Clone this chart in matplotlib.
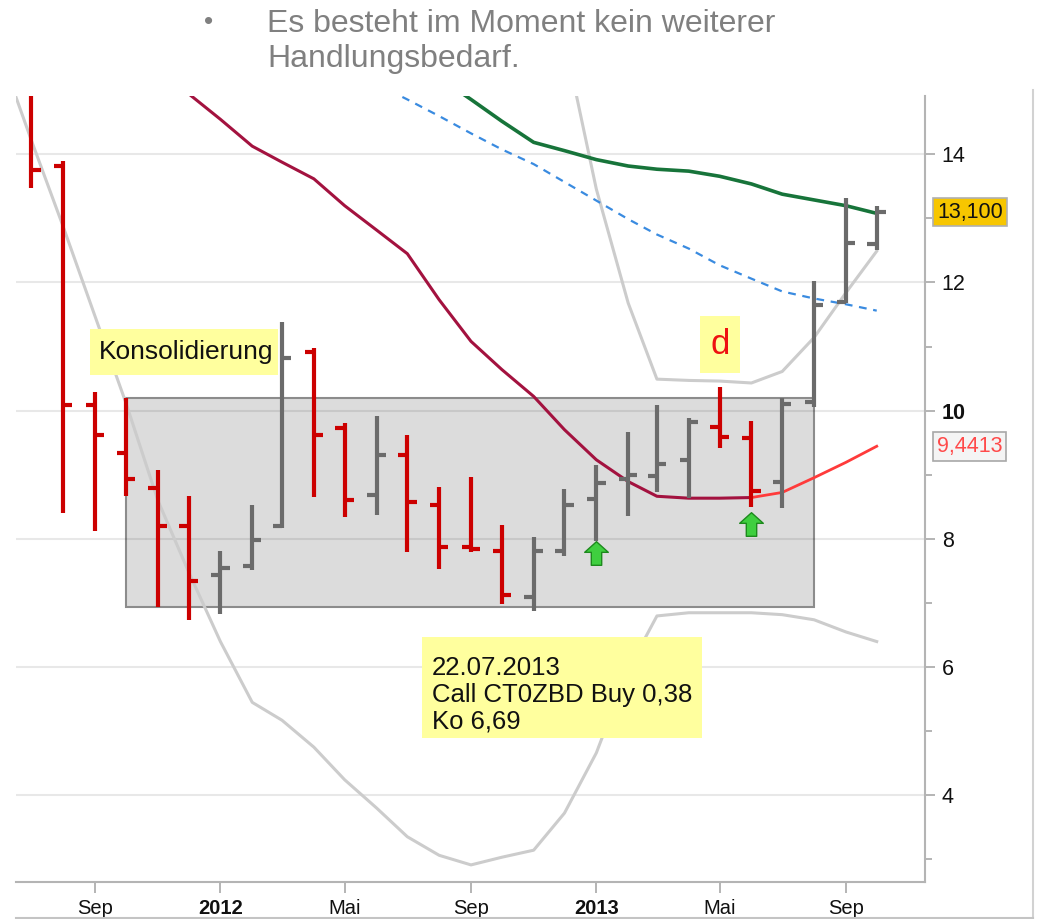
import matplotlib
matplotlib.use('Agg')
import matplotlib.pyplot as plt
import matplotlib.dates as mdates
from matplotlib.patches import Rectangle
from matplotlib.path import Path
from matplotlib.lines import Line2D
import pandas as pd

plt.rcParams['font.family'] = ['Liberation Sans', 'DejaVu Sans']

# monthly OHLC, Jul 2011 .. Oct 2013
months = pd.date_range('2011-07-01', periods=28, freq='MS')
opens = [15.6, 13.82, 10.09, 9.34, 8.79, 8.20, 7.43, 7.57, 8.20, 10.92, 9.73, 8.68, 9.31, 8.53,
         7.86, 7.80, 7.09, 7.81, 8.62, 8.93, 8.97, 9.23, 9.75, 9.57, 8.88, 10.13, 11.70, 12.60]
highs = [16.2, 13.90, 10.29, 10.20, 9.07, 8.66, 7.80, 8.52, 11.39, 10.98, 9.80, 9.92, 9.62, 8.81,
         8.96, 8.21, 8.02, 8.77, 9.15, 9.66, 10.09, 9.89, 10.37, 9.83, 10.20, 12.02, 13.32, 13.20]
lows = [13.48, 8.40, 8.12, 8.66, 6.93, 6.73, 6.82, 7.51, 8.17, 8.65, 8.34, 8.36, 7.79, 7.52,
        7.79, 6.98, 6.87, 7.73, 7.96, 8.35, 8.73, 8.64, 9.41, 8.50, 8.48, 10.06, 11.68, 12.50]
closes = [13.76, 10.09, 9.62, 8.93, 8.20, 7.33, 7.54, 7.98, 10.82, 9.62, 8.60, 9.31, 8.57, 7.86,
          7.84, 7.12, 7.81, 8.53, 8.86, 8.99, 9.16, 9.82, 9.59, 8.74, 10.10, 11.65, 12.62, 13.10]

# indicator lines
ma_dark_start = '2011-10-01'
ma_dark = [15.8, 15.37, 14.95, 14.55, 14.13, 13.88, 13.62, 13.2, 12.82, 12.45, 11.73, 11.08,
           10.64, 10.22, 9.70, 9.23, 8.89, 8.66, 8.63, 8.63, 8.64]
ma_proj_start = '2013-06-01'
ma_proj = [8.64, 8.72, 8.95, 9.19, 9.4413]
green_start = '2012-08-01'
green = [15.2, 14.86, 14.52, 14.19, 14.06, 13.92, 13.82, 13.77, 13.74, 13.66, 13.54, 13.38,
         13.29, 13.2, 13.08]
blue_start = '2012-06-01'
blue = [15.1, 14.86, 14.6, 14.33, 14.08, 13.85, 13.57, 13.28, 12.99, 12.75, 12.53, 12.27,
        12.06, 11.86, 11.75, 11.66, 11.56]
lower_start = '2011-06-01'
lower_band = [15.57, 14.22, 12.87, 11.47, 10.12, 8.6, 7.48, 6.39, 5.44, 5.16, 4.74, 4.23, 3.79,
              3.34, 3.05, 2.90, 3.02, 3.13, 3.71, 4.65, 5.95, 6.79, 6.84, 6.84, 6.84, 6.81,
              6.73, 6.54, 6.39]
upper_start = '2012-11-01'
upper_band = [17.5, 15.8, 13.46, 11.68, 10.49, 10.47, 10.46, 10.43, 10.61, 11.14, 11.84, 12.49]

# consolidation zone and buy signals
box_start, box_end = '2011-10-01', '2013-08-01'
box_low, box_high = 6.93, 10.2
signal_dates = ['2013-01-01', '2013-06-01']
signal_levels = [7.77, 8.22]

x_tick_labels = ['Sep', '2012', 'Mai', 'Sep', '2013', 'Mai', 'Sep']
y_ticks = [4, 6, 8, 10, 12, 14]


def dnum(d):
    return mdates.date2num(pd.to_datetime(d))


def series_x(start, n):
    return mdates.date2num(pd.date_range(start, periods=n, freq='MS').to_pydatetime())


fig = plt.figure(figsize=(10.4, 9.19), dpi=100)
ax = fig.add_axes([16 / 1040, 37 / 919, 909 / 1040, 786 / 919])

x = mdates.date2num(months.to_pydatetime())

# grid behind marks
for v in y_ticks:
    ax.axhline(v, color='black', alpha=0.09, lw=1.5, zorder=1.5)

ax.add_patch(Rectangle((dnum(box_start), box_low), dnum(box_end) - dnum(box_start),
                       box_high - box_low, facecolor='#dcdcdc', edgecolor='#8c8c8c',
                       lw=1.5, zorder=1))

ax.plot(series_x(lower_start, len(lower_band)), lower_band, color='#cccccc', lw=2.2, zorder=2)
ax.plot(series_x(upper_start, len(upper_band)), upper_band, color='#cccccc', lw=2.2, zorder=2)
ax.plot(series_x(blue_start, len(blue)), blue, color='#3a8be0', lw=1.6,
        ls=(0, (3.5, 3)), zorder=3)
ax.plot(series_x(green_start, len(green)), green, color='#17743a', lw=2.6, zorder=3)
ax.plot(series_x(ma_dark_start, len(ma_dark)), ma_dark, color='#a3123f', lw=2.2, zorder=3.5)
ax.plot(series_x(ma_proj_start, len(ma_proj)), ma_proj, color='#ff3b3b', lw=2, zorder=3.5)

# OHLC bars
colors = ['#cc0000' if c < o else '#6b6b6b' for o, c in zip(opens, closes)]
ax.vlines(x, lows, highs, colors=colors, lw=3, zorder=4)
ax.hlines(opens, x - 9, x, colors=colors, lw=3, zorder=4)
ax.hlines(closes, x, x + 9, colors=colors, lw=3, zorder=4)

# buy arrows
arrow = Path([(-0.22, -0.5), (0.22, -0.5), (0.22, 0.05), (0.5, 0.05), (0, 0.5),
              (-0.5, 0.05), (-0.22, 0.05), (-0.22, -0.5)],
             [Path.MOVETO] + [Path.LINETO] * 6 + [Path.CLOSEPOLY])
ax.plot([dnum(d) for d in signal_dates], signal_levels, ls='none', marker=arrow,
        markersize=17, mfc='#3fcf3f', mec='#1d8a1d', mew=1, zorder=5)

ax.set_xlim(dnum('2011-06-16'), dnum('2013-11-17'))
ax.set_ylim(2.633, 14.914)

# axes styling
for s in ['left', 'top']:
    ax.spines[s].set_visible(False)
for s in ['right', 'bottom']:
    ax.spines[s].set_color('#b4b4b4')
    ax.spines[s].set_linewidth(1.5)

ax.yaxis.tick_right()
ax.set_yticks(y_ticks)
ax.set_yticklabels([str(v) for v in y_ticks])
ax.set_yticks(range(3, 15, 2), minor=True)
ax.tick_params(axis='y', which='major', length=7, width=1.2, color='#a8a8a8',
               labelsize=15.5, pad=5, labelcolor='#111111')
ax.tick_params(axis='y', which='minor', length=5, width=1.2, color='#a8a8a8')
for lbl in ax.get_yticklabels():
    if lbl.get_text() == '10':
        lbl.set_fontweight('bold')

tick_x = mdates.date2num(pd.date_range('2011-09-01', '2013-09-01', freq='4MS').to_pydatetime())
ax.set_xticks(tick_x)
ax.set_xticklabels(x_tick_labels)
ax.tick_params(axis='x', length=8, width=1.2, color='#a8a8a8', labelsize=14.5, pad=4,
               labelcolor='#111111')
for lbl in ax.get_xticklabels():
    if lbl.get_text().isdigit():
        lbl.set_fontweight('bold')

# price labels on the right
ax.annotate(f'{closes[-1]:.3f}'.replace('.', ','), xy=(1, closes[-1]),
            xycoords=ax.get_yaxis_transform(), xytext=(12, 0), textcoords='offset pixels',
            ha='left', va='center', fontsize=15.5, color='#111111', annotation_clip=False,
            bbox=dict(boxstyle='square,pad=0.18', fc='#f7c600', ec='#b0b0b0', lw=1.2))
ax.annotate(f'{ma_proj[-1]:.4f}'.replace('.', ','), xy=(1, ma_proj[-1]),
            xycoords=ax.get_yaxis_transform(), xytext=(12, 0), textcoords='offset pixels',
            ha='left', va='center', fontsize=15.5, color='#ff4a4a', annotation_clip=False,
            bbox=dict(boxstyle='square,pad=0.18', fc='#f4f4f4', ec='#a8a8a8', lw=1.2))

# yellow notes (axes fraction)
yellow = '#ffff9e'
ax.add_patch(Rectangle((0.0814, 0.645), 0.2068, 0.0585, transform=ax.transAxes,
                       facecolor=yellow, edgecolor='none', zorder=6))
ax.text(0.187, 0.6743, 'Konsolidierung', transform=ax.transAxes, ha='center', va='center',
        fontsize=19, color='#111111', zorder=7)

ax.add_patch(Rectangle((0.7525, 0.6476), 0.044, 0.0725, transform=ax.transAxes,
                       facecolor=yellow, edgecolor='none', zorder=6))
ax.text(0.7745, 0.684, 'd', transform=ax.transAxes, ha='center', va='center',
        fontsize=25, color='#ee1111', zorder=7)

ax.add_patch(Rectangle((0.4466, 0.1832), 0.308, 0.1285, transform=ax.transAxes,
                       facecolor=yellow, edgecolor='none', zorder=6))
note_lines = ['22.07.2013', 'Call CT0ZBD Buy 0,38', 'Ko 6,69']
for line, yb in zip(note_lines, [0.2634, 0.229, 0.1959]):
    ax.text(0.4576, yb, line, transform=ax.transAxes, ha='left', va='baseline',
            fontsize=18.5, color='#111111', zorder=7)

# frame lines of the screenshot
fig.add_artist(Line2D([1033 / 1040] * 2, [0, 1 - 90 / 919], transform=fig.transFigure,
                      color='#d2d2d2', lw=1.5))
fig.add_artist(Line2D([16 / 1040, 1033 / 1040], [1 - 918 / 919] * 2, transform=fig.transFigure,
                      color='#c4c4c4', lw=1.5))

# heading text
fig.text(204 / 1040, 1 - 29 / 919, '\u2022', fontsize=19, color='#808080', va='baseline')
fig.text(267 / 1040, 1 - 32 / 919, 'Es besteht im Moment kein weiterer', fontsize=23,
         color='#808080', va='baseline')
fig.text(267 / 1040, 1 - 67 / 919, 'Handlungsbedarf.', fontsize=23, color='#808080',
         va='baseline')

fig.savefig('out.png', dpi=100)
